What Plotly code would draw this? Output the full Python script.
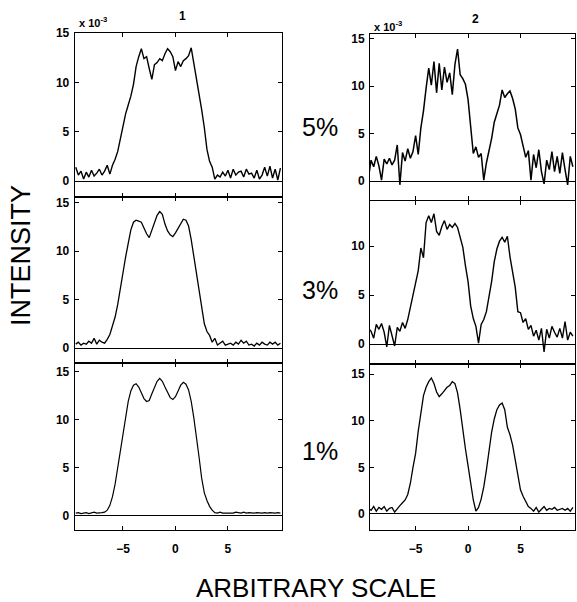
import plotly.graph_objects as go

# Sampling positions (arbitrary scale)
X = [-9.5, -9.25, -9.0, -8.75, -8.5, -8.25, -8.0, -7.75, -7.5, -7.25, -7.0, -6.75, -6.5, -6.25,
     -6.0, -5.75, -5.5, -5.25, -5.0, -4.75, -4.5, -4.25, -4.0, -3.75, -3.5, -3.25, -3.0, -2.75,
     -2.5, -2.25, -2.0, -1.75, -1.5, -1.25, -1.0, -0.75, -0.5, -0.25, 0.0, 0.25, 0.5, 0.75,
     1.0, 1.25, 1.5, 1.75, 2.0, 2.25, 2.5, 2.75, 3.0, 3.25, 3.5, 3.75, 4.0, 4.25, 4.5, 4.75,
     5.0, 5.25, 5.5, 5.75, 6.0, 6.25, 6.5, 6.75, 7.0, 7.25, 7.5, 7.75, 8.0, 8.25, 8.5, 8.75,
     9.0, 9.25, 9.5, 9.75, 10.0]

# Intensity (x 10^-3) – column 1
col1_5pct = [1.4, 0.6, 1.0, 0.2, 0.9, 0.4, 1.1, 0.5, 0.8, 1.2, 0.6, 1.0, 1.6, 0.7,
             1.6, 2.2, 3.0, 4.3, 5.4, 6.8, 7.7, 8.6, 9.8, 11.6, 12.6, 13.4, 12.4, 12.6,
             11.4, 10.3, 11.8, 12.0, 12.4, 12.2, 12.9, 13.4, 13.1, 12.6, 11.2, 12.1, 11.6, 12.2,
             12.4, 12.7, 13.5, 12.0, 10.3, 8.8, 7.2, 5.4, 3.2, 2.0, 1.4, 0.2, 0.6, 0.4, 0.9, 0.5,
             1.1, 0.3, 1.2, 0.6, 0.9, 1.0, 0.4, 1.2, 0.7, 0.8, 0.3, 1.1, 0.2, 0.6, 1.4, 0.5,
             1.5, 0.3, 1.2, 0.1, 1.3]
col1_3pct = [0.4, 0.6, 0.3, 0.5, 0.4, 0.7, 0.5, 1.0, 0.4, 0.8, 0.6, 0.5, 0.9, 1.4,
             2.3, 3.2, 4.5, 6.2, 7.9, 9.4, 10.8, 12.2, 13.0, 13.2, 13.1, 13.0, 12.4, 11.8,
             11.4, 12.1, 13.0, 13.7, 14.1, 13.8, 12.8, 12.1, 11.7, 11.5, 11.9, 12.4, 12.8, 13.3,
             13.2, 12.6, 11.2, 9.4, 7.6, 5.6, 3.8, 2.5, 1.7, 1.3, 0.6, 1.0, 0.3, 0.5, 0.7, 0.3,
             0.4, 0.5, 0.3, 0.6, 0.4, 0.8, 0.5, 0.7, 0.3, 0.4, 0.2, 0.5, 0.3, 0.6, 0.4, 0.3,
             0.6, 0.4, 0.6, 0.3, 0.5]
col1_1pct = [0.3, 0.35, 0.25, 0.3, 0.35, 0.25, 0.3, 0.4, 0.3, 0.3, 0.35, 0.4, 0.6, 1.1,
             2.0, 3.3, 5.0, 6.6, 8.4, 10.3, 11.9, 13.0, 13.6, 13.75, 13.4, 12.8, 12.2, 11.9,
             12.0, 12.7, 13.4, 14.0, 14.3, 14.0, 13.4, 12.8, 12.3, 12.1, 12.4, 13.0, 13.6, 13.9,
             13.7, 13.1, 11.9, 10.2, 8.3, 6.1, 3.9, 2.4, 1.6, 1.0, 0.6, 0.35, 0.3, 0.4, 0.3, 0.3,
             0.35, 0.3, 0.3, 0.4, 0.35, 0.3, 0.4, 0.3, 0.35, 0.3, 0.3, 0.35, 0.3, 0.3, 0.35, 0.3,
             0.35, 0.3, 0.3, 0.35, 0.3]

# Intensity (x 10^-3) – column 2
col2_5pct = [0.3, 2.2, 1.5, 2.6, 1.6, 0.1, 2.3, 1.8, 2.4, 1.7, 2.2, 3.8, -0.4, 3.0,
             2.1, 3.4, 2.4, 3.1, 4.8, 2.8, 5.6, 7.4, 9.8, 11.9, 10.1, 12.6, 9.3, 12.4,
             9.6, 12.0, 10.4, 11.4, 9.1, 12.3, 13.9, 11.2, 10.8, 10.2, 8.6, 5.8, 2.9, 3.6,
             2.5, 2.9, 0.1, 1.9, 3.2, 4.5, 6.2, 7.0, 8.0, 9.6, 8.8, 9.2, 9.5, 8.7, 7.6, 5.6,
             4.9, 3.7, 2.5, 3.2, 0.1, 2.8, 1.4, 3.3, 1.0, -0.3, 2.2, 1.2, 3.1, 1.0, 2.6, 0.8,
             3.0, 1.2, -0.4, 2.6, 1.5]
col2_3pct = [1.6, 1.3, 0.6, 2.0, 1.5, 2.1, 1.2, -0.3, 1.9, 0.8, -0.2, 1.7, 1.3, 2.2,
             1.6, 2.5, 3.8, 5.2, 6.3, 7.5, 9.8, 8.8, 12.4, 13.1, 12.4, 13.3, 11.5, 11.1,
             12.0, 12.6, 11.7, 12.2, 11.9, 12.3, 11.9, 11.0, 9.9, 8.0, 6.4, 3.9, 2.6, 1.8,
             0.1, 2.0, 2.5, 3.3, 4.8, 6.4, 8.4, 9.7, 10.5, 10.9, 10.4, 11.0, 8.9, 7.4, 5.8, 3.3,
             3.2, 2.2, 2.6, 1.5, 1.9, 0.8, 1.4, 0.4, 1.6, -0.8, 1.5, 0.6, 1.8, 1.2, 0.7, 1.6,
             0.6, 2.3, 0.4, 1.2, 0.8]
col2_1pct = [0.6, 0.4, 0.8, 0.3, 0.7, 0.5, 0.8, 0.3, 0.6, 0.7, 0.2, 0.6, 0.9, 1.2,
             1.5, 2.1, 3.3, 5.0, 6.5, 8.9, 11.1, 12.7, 13.6, 14.2, 14.6, 14.0, 13.1, 12.6,
             12.9, 13.3, 13.6, 13.8, 14.2, 14.0, 13.0, 11.2, 8.8, 7.0, 5.2, 3.1, 1.5, 0.3,
             0.7, 1.6, 2.9, 4.7, 6.8, 8.8, 10.2, 11.2, 11.7, 11.9, 11.2, 9.3, 8.5, 7.4, 5.8, 4.0,
             2.6, 1.9, 1.4, 0.8, 0.6, 0.3, 0.7, 0.2, 0.5, 0.8, 0.4, 0.6, 0.5, 0.7, 0.4, 0.5,
             0.6, 0.4, 0.6, 0.3, 0.7]

column_titles = ["1", "2"]
row_labels = ["5%", "3%", "1%"]
y_tick_vals = [0, 5, 10, 15]
x_tick_vals = [-5, 0, 5]
x_tick_text = ["\u22125", "0", "5"]

W, H = 577, 602


def fx(px):
    return px / W


def fy(px):
    return 1 - px / H


# panel geometry (pixels) and axis ranges
col_x = [(74.7, 282.0), (370.0, 575.0)]
col_xrange = [[-9.6, 10.15], [-9.35, 10.2]]
rows_y = [
    [(33, 197), (197, 363), (363, 530)],
    [(34, 200), (201, 364), (364, 530)],
]
yranges = [
    [[-1.62, 15.0], [-1.55, 15.6], [-1.46, 15.9]],
    [[-2.0, 15.5], [-2.04, 14.6], [-1.72, 16.1]],
]
series = [[col1_5pct, col1_3pct, col1_1pct], [col2_5pct, col2_3pct, col2_1pct]]
widths = [[1.4, 1.3, 1.2], [1.5, 1.4, 1.3]]

fig = go.Figure()
layout = dict(
    width=W, height=H, margin=dict(l=0, r=0, t=0, b=0),
    paper_bgcolor="white", plot_bgcolor="white", showlegend=False,
)
tickfont = dict(family="Arial", size=12, color="black", weight="bold")
k = 0
for c in range(2):
    for r in range(3):
        k += 1
        xa = "xaxis" if k == 1 else f"xaxis{k}"
        ya = "yaxis" if k == 1 else f"yaxis{k}"
        xr = "x" if k == 1 else f"x{k}"
        yr = "y" if k == 1 else f"y{k}"
        fig.add_trace(go.Scatter(x=X, y=series[c][r], mode="lines",
                                 line=dict(color="black", width=widths[c][r]),
                                 xaxis=xr, yaxis=yr, hoverinfo="skip"))
        x0, x1 = col_x[c]
        y0, y1 = rows_y[c][r]
        layout[xa] = dict(
            domain=[fx(x0), fx(x1)], range=col_xrange[c], anchor=yr,
            showgrid=False, zeroline=False, showline=True, linecolor="black", linewidth=1,
            mirror="ticks", ticks="inside", ticklen=4, tickcolor="black",
            tickvals=x_tick_vals, ticktext=x_tick_text, automargin=False,
            showticklabels=(r == 2), tickfont=tickfont, ticklabelstandoff=8,
        )
        layout[ya] = dict(
            domain=[fy(y1), fy(y0)], range=yranges[c][r], anchor=xr,
            showgrid=False, zeroline=True, zerolinecolor="black", zerolinewidth=1.3,
            showline=True, linecolor="black", linewidth=1, automargin=False,
            mirror="ticks", ticks="inside", ticklen=4, tickcolor="black",
            tickvals=y_tick_vals, tickfont=tickfont, ticklabelstandoff=2,
        )

ann = []
# column titles
ann.append(dict(x=fx(182), y=fy(16.5), text=column_titles[0],
                font=dict(family="Arial", size=12, color="black", weight="bold")))
ann.append(dict(x=fx(475), y=fy(19), text=column_titles[1],
                font=dict(family="Arial", size=12, color="black", weight="bold")))
# exponent labels
for px, py in [(77, 22), (372, 26)]:
    ann.append(dict(x=fx(px), y=fy(py), xanchor="left", text="x 10<sup>-3</sup>",
                    font=dict(family="Arial", size=11, color="black", weight="bold")))
# row labels
for lab, py in zip(row_labels, [127, 290, 451]):
    ann.append(dict(x=fx(320), y=fy(py), text=lab,
                    font=dict(family="Arial", size=25, color="black")))
# axis titles
ann.append(dict(x=fx(21), y=fy(256), text="INTENSITY", textangle=-90,
                font=dict(family="Arial", size=27, color="black")))
ann.append(dict(x=fx(316), y=fy(588), text="ARBITRARY SCALE",
                font=dict(family="Arial", size=26, color="black")))
for a in ann:
    a.setdefault("xanchor", "center")
    a.update(xref="paper", yref="paper", showarrow=False, yanchor="middle")
layout["annotations"] = ann

fig.update_layout(**layout)
fig.write_html("out.html")
